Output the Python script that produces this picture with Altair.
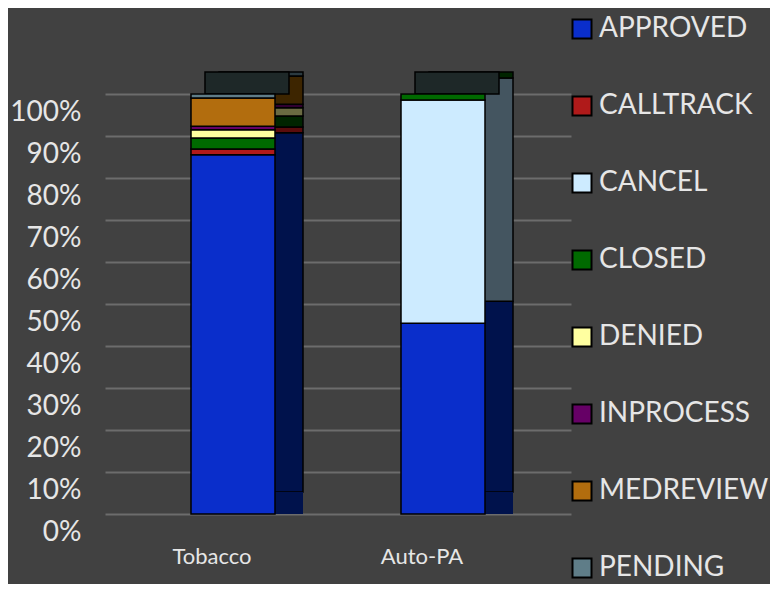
import altair as alt
import pandas as pd

categories = ["Tobacco", "Auto-PA"]
statuses = ["APPROVED", "CALLTRACK", "CANCEL", "CLOSED", "DENIED", "INPROCESS", "MEDREVIEW", "PENDING"]
tobacco_pct = [85.55, 1.35, 0.0, 2.6, 2.0, 0.8, 6.75, 0.95]
autopa_pct = [45.4, 0.0, 53.2, 1.4, 0.0, 0.0, 0.0, 0.0]

front_colors = ["#0a2ecb", "#b01a1a", "#cdebff", "#006a00", "#ffffa0", "#660066", "#b26d0e", "#5f7d88"]
side_colors = ["#00124c", "#5a0c0c", "#445560", "#002400", "#6a6a42", "#300030", "#3d2500", "#2b3a40"]

rows = []
for cat, vals in zip(categories, [tobacco_pct, autopa_pct]):
    for i, (s, v) in enumerate(zip(statuses, vals)):
        if v > 0:
            rows.append({"cat": cat, "status": s, "value": v, "idx": i, "side": side_colors[i]})
df = pd.DataFrame(rows)

W, H = 466, 420
xscale = alt.Scale(domain=categories, paddingInner=0, paddingOuter=0.1095)
yscale = alt.Scale(domain=[0, 100], nice=False)

base = alt.Chart(df)

x_enc = alt.X("cat:N", scale=xscale, sort=categories, title=None,
              axis=alt.Axis(labelAngle=0, labelFontSize=22, labelColor="#e6e6e6", labelFont="Lato",
                            labelPadding=32, labelOffset=-21, ticks=False, domain=False))
y_enc = alt.Y("value:Q", scale=yscale, stack="zero", title=None,
              axis=alt.Axis(values=list(range(0, 101, 10)), labelExpr="datum.value + '%'",
                            labelFontSize=28, labelColor="#e6e6e6", labelFont="Lato",
                            labelPadding=24, labelOffset=18, ticks=False, domain=False,
                            grid=True, gridColor="#6c6c6c", gridWidth=2))

side = base.mark_bar(size=84, xOffset=28, yOffset=-22, stroke="#000000", strokeWidth=1.5).encode(
    x=x_enc, y=y_enc,
    color=alt.Color("side:N", scale=None),
    order=alt.Order("idx:Q", sort="ascending"),
)

foot = base.transform_filter(alt.datum.idx == 0).mark_tick(
    size=28, thickness=22, xOffset=56, yOffset=-11, color=side_colors[0], opacity=1).encode(
    x=alt.X("cat:N", scale=xscale, sort=categories),
    y=alt.YDatum(0),
)

cap = base.transform_aggregate(total="sum(value)", groupby=["cat"]).mark_tick(
    size=84, thickness=22, xOffset=14, yOffset=-11, color="#1e2828", opacity=1,
    stroke="#000000", strokeWidth=1.5).encode(
    x=alt.X("cat:N", scale=xscale, sort=categories),
    y=alt.Y("total:Q", scale=yscale),
)

front = base.mark_bar(size=84, stroke="#000000", strokeWidth=1.5).encode(
    x=x_enc, y=y_enc,
    color=alt.Color("status:N", scale=alt.Scale(domain=statuses, range=front_colors),
                    legend=alt.Legend(title=None, orient="none", legendX=463, legendY=-79,
                                      symbolType="square", symbolSize=361, symbolStrokeColor="#000000",
                                      symbolStrokeWidth=2, labelFontSize=28, labelColor="#e6e6e6",
                                      labelFont="Lato", labelOffset=3, rowPadding=49, labelLimit=0)),
    order=alt.Order("idx:Q", sort="ascending"),
)

chart = alt.layer(side, foot, cap, front).properties(
    width=W, height=H,
    background="#414141",
    autosize=alt.AutoSizeParams(type="none"),
    padding={"left": 97, "top": 86, "right": 199, "bottom": 70},
).configure_view(stroke=None)

chart.save("out.html", embed_options={"renderer": "svg", "actions": False})
